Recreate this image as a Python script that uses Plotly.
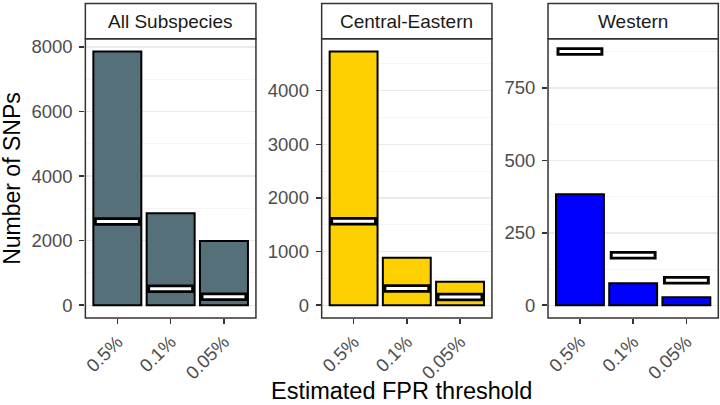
import plotly.graph_objects as go

thresholds = ["0.5%", "0.1%", "0.05%"]
panels = ["All Subspecies", "Central-Eastern", "Western"]
bar_colors = ["#56707A", "#FFD000", "#0000FF"]

all_obs = [7860, 2850, 1990]
all_exp = [2595, 513, 267]
ce_obs = [4730, 885, 440]
ce_exp = [1567, 310, 155]
w_obs = [383, 76, 28]
w_exp = [876, 173, 86]

obs = [all_obs, ce_obs, w_obs]
exp = [all_exp, ce_exp, w_exp]
major_dtick = [2000, 1000, 250]

W, H = 720, 405
panel_x = [(82.7, 254.0), (320.0, 491.0), (547.3, 718.3)]
panel_top, panel_bottom = 37.0, 317.5
strip_top = 1.5

def px(x):
    return x / W

def py(y):
    return 1 - y / H

fig = go.Figure()
shapes = []
annotations = []

for i in range(3):
    xa = "x" if i == 0 else f"x{i+1}"
    ya = "y" if i == 0 else f"y{i+1}"
    xs = list(range(len(thresholds)))
    fig.add_trace(go.Bar(
        x=xs, y=obs[i], width=0.9, xaxis=xa, yaxis=ya,
        marker=dict(color=bar_colors[i], line=dict(color="black", width=2)),
        showlegend=False, hoverinfo="skip",
    ))
    bx, by, wx, wy = [], [], [], []
    for j, v in enumerate(exp[i]):
        bx += [j - 0.44, j + 0.44, None]
        by += [v, v, None]
        wx += [j - 0.385, j + 0.385, None]
        wy += [v, v, None]
    fig.add_trace(go.Scatter(x=bx, y=by, mode="lines", xaxis=xa, yaxis=ya,
                             line=dict(color="black", width=8.5),
                             showlegend=False, hoverinfo="skip"))
    fig.add_trace(go.Scatter(x=wx, y=wy, mode="lines", xaxis=xa, yaxis=ya,
                             line=dict(color="white", width=3),
                             showlegend=False, hoverinfo="skip"))

    m = max(obs[i] + exp[i])
    x0, x1 = panel_x[i]
    key = "" if i == 0 else str(i + 1)
    fig.update_layout(**{
        f"xaxis{key}": dict(
            domain=[px(x0), px(x1)], range=[-0.6, 2.6], anchor=ya,
            tickmode="array", tickvals=xs, ticktext=thresholds,
            tickangle=-45, ticks="outside", ticklen=5, tickwidth=1.5,
            tickcolor="#333333", showgrid=False, zeroline=False,
            showline=False, fixedrange=True,
            tickfont=dict(family="Liberation Sans, Arial", size=18.5, color="#4D4D4D"),
        ),
        f"yaxis{key}": dict(
            domain=[py(panel_bottom), py(panel_top)], anchor=xa,
            range=[-0.05 * m, 1.05 * m], tick0=0, dtick=major_dtick[i],
            ticks="outside", ticklen=5, tickwidth=1.5, tickcolor="#333333",
            showgrid=True, gridcolor="#EBEBEB", gridwidth=1.4,
            minor=dict(dtick=major_dtick[i] / 2, tick0=0, showgrid=True,
                       gridcolor="#F2F2F2", gridwidth=0.8, ticks=""),
            zeroline=False, showline=False, fixedrange=True,
            ticklabelstandoff=3,
            tickfont=dict(family="Liberation Sans, Arial", size=18.5, color="#4D4D4D"),
        ),
    })
    # panel border
    shapes.append(dict(type="rect", xref="paper", yref="paper",
                       x0=px(x0), x1=px(x1), y0=py(panel_bottom), y1=py(panel_top),
                       line=dict(color="#333333", width=1.5), fillcolor="rgba(0,0,0,0)",
                       layer="above"))
    # strip
    shapes.append(dict(type="rect", xref="paper", yref="paper",
                       x0=px(x0), x1=px(x1), y0=py(panel_top), y1=py(strip_top),
                       line=dict(color="#333333", width=1.5), fillcolor="white",
                       layer="above"))
    annotations.append(dict(text=panels[i], xref="paper", yref="paper",
                            x=px((x0 + x1) / 2), y=py((panel_top + strip_top) / 2),
                            xanchor="center", yanchor="middle", showarrow=False,
                            font=dict(family="Liberation Sans, Arial", size=19, color="#1A1A1A")))

annotations.append(dict(text="Number of SNPs", xref="paper", yref="paper",
                        x=px(9.5), y=py((panel_top + panel_bottom) / 2),
                        xanchor="center", yanchor="middle", textangle=-90,
                        showarrow=False,
                        font=dict(family="Liberation Sans, Arial", size=23, color="black")))
annotations.append(dict(text="Estimated FPR threshold", xref="paper", yref="paper",
                        x=px((82.7 + 718.3) / 2), y=0,
                        xanchor="center", yanchor="bottom", showarrow=False,
                        borderpad=0,
                        font=dict(family="Liberation Sans, Arial", size=23.5, color="black")))

fig.update_layout(
    width=W, height=H, margin=dict(l=0, r=0, t=0, b=0),
    paper_bgcolor="white", plot_bgcolor="white",
    shapes=shapes, annotations=annotations, bargap=0,
)

fig.write_html(
    "out.html",
    config={"displayModeBar": False, "staticPlot": True},
    post_script="document.body.style.margin='0';document.body.style.padding='0';document.body.style.overflow='hidden';",
)
